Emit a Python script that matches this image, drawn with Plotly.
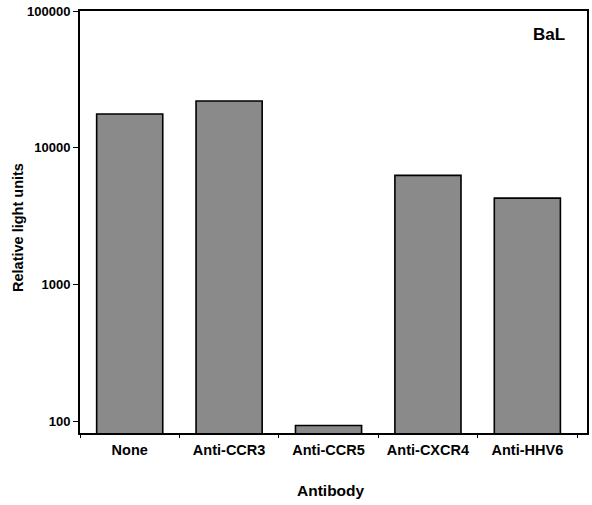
import plotly.graph_objects as go

categories = ["None", "Anti-CCR3", "Anti-CCR5", "Anti-CXCR4", "Anti-HHV6"]
values = [17700, 22000, 94, 6300, 4300]
y_tick_vals = [100, 1000, 10000, 100000]
y_tick_text = ["100", "1000", "10000", "100000"]

font_family = "Liberation Sans, Arial, sans-serif"

fig = go.Figure()
fig.add_trace(go.Bar(
    x=categories,
    y=values,
    width=0.665,
    marker=dict(color="#8a8a8a", line=dict(color="black", width=1.6)),
))

fig.update_layout(
    width=592, height=505,
    margin=dict(l=80, r=5, t=11, b=72, autoexpand=False),
    plot_bgcolor="white", paper_bgcolor="white",
    showlegend=False,
    font=dict(family=font_family, color="black"),
    xaxis=dict(
        range=[-0.5, 4.6],
        automargin=False,
        showline=True, linecolor="black", linewidth=1.8, mirror=True,
        ticks="outside", tickson="boundaries", ticklen=3, tickcolor="black",
        tickfont=dict(size=14.5, family=font_family, weight="bold"),
        ticklabelstandoff=3,
        showgrid=False,
    ),
    yaxis=dict(
        type="log",
        range=[1.918, 5.0],
        automargin=False,
        tickvals=y_tick_vals, ticktext=y_tick_text,
        showline=True, linecolor="black", linewidth=1.8, mirror=True,
        ticks="outside", ticklen=5, tickcolor="black",
        tickfont=dict(size=13, family=font_family, weight="bold"),
        showgrid=False, zeroline=False,
    ),
    annotations=[
        dict(
            text="<b>BaL</b>", x=0.925, y=0.945, xref="paper", yref="paper",
            xanchor="center", yanchor="middle", showarrow=False,
            font=dict(size=17, family=font_family),
        ),
        dict(
            text="<b>Relative light units</b>", x=18, y=505 - 228,
            xref="paper", yref="paper", showarrow=False, textangle=-90,
            xanchor="center", yanchor="middle",
            font=dict(size=14.5, family=font_family),
        ),
        dict(
            text="<b>Antibody</b>", x=331, y=505 - 490,
            xref="paper", yref="paper", showarrow=False,
            xanchor="center", yanchor="middle",
            font=dict(size=15.5, family=font_family),
        ),
    ],
)

# convert pixel positions of the axis-title annotations into paper coordinates
plot_w = 592 - 80 - 5
plot_h = 505 - 11 - 72
for ann in fig.layout.annotations[1:]:
    ann.x = (ann.x - 80) / plot_w
    ann.y = (ann.y - 72) / plot_h

fig.write_html(
    "out.html",
    config={"displayModeBar": False},
    post_script="document.body.style.margin='0';document.body.style.overflow='hidden';",
)
